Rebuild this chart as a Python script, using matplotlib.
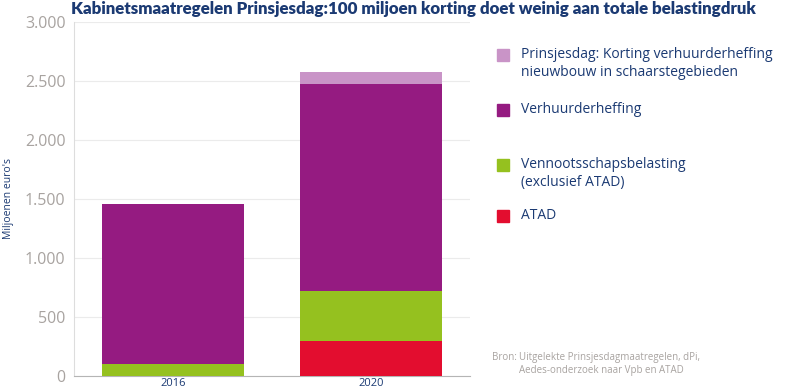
import matplotlib.pyplot as plt
from matplotlib.patches import Rectangle
import numpy as np

# data (miljoenen euro's)
years = ['2016', '2020']
atad = [0, 300]
vpb = [100, 420]
verhuurderheffing = [1360, 1755]
korting = [0, 100]

series_labels = ['Prinsjesdag: Korting verhuurderheffing\nnieuwbouw in schaarstegebieden',
                 'Verhuurderheffing',
                 'Vennootsschapsbelasting\n(exclusief ATAD)',
                 'ATAD']
yticks = [0, 500, 1000, 1500, 2000, 2500, 3000]
ytick_labels = ['0', '500', '1.000', '1.500', '2.000', '2.500', '3.000']

navy = '#1b3a73'
grey = '#a8a3a0'
c_atad = '#e30d2f'
c_vpb = '#95c11f'
c_vhh = '#951b81'
c_kort = '#c994c7'

plt.rcParams['font.family'] = ['Open Sans', 'DejaVu Sans']

fig = plt.figure(figsize=(7.86, 3.9), dpi=100)
ax = fig.add_axes([0.094, 0.036, 0.504, 0.908])

x = np.arange(len(years))
w = 0.72
bottom = np.zeros(len(years))
for vals, col in [(atad, c_atad), (vpb, c_vpb), (verhuurderheffing, c_vhh), (korting, c_kort)]:
    ax.bar(x, vals, w, bottom=bottom, color=col, zorder=3)
    bottom += np.array(vals)

ax.set_xlim(-0.5, 1.5)
ax.set_ylim(0, 3000)
ax.set_yticks(yticks)
ax.set_yticklabels(ytick_labels, fontsize=11.5, color=grey)
ax.set_xticks(x)
ax.set_xticklabels(years, fontsize=8, color=navy)
ax.tick_params(axis='both', length=0)
ax.tick_params(axis='y', pad=6)
ax.tick_params(axis='x', pad=1.5)
ax.grid(axis='y', color='#ebebeb', linewidth=0.8, zorder=0)
for s in ['top', 'right']:
    ax.spines[s].set_visible(False)
ax.spines['left'].set_color('#dddddd')
ax.spines['bottom'].set_color('#b5b5b5')
ax.set_ylabel("Miljoenen euro's", fontsize=7.5, color=navy, labelpad=8)

fig.text(0.526, 0.997, 'Kabinetsmaatregelen Prinsjesdag:100 miljoen korting doet weinig aan totale belastingdruk',
         ha='center', va='top', fontsize=12.2, fontweight='heavy', color=navy, family=['Lato', 'DejaVu Sans'])

# legend drawn by hand
W, H = 786, 390
leg = [(c_kort, 49, series_labels[0]),
       (c_vhh, 104, series_labels[1]),
       (c_vpb, 159, series_labels[2]),
       (c_atad, 210, series_labels[3])]
for col, ytop, lab in leg:
    fig.patches.append(Rectangle((497 / W, 1 - (ytop + 12) / H), 12 / W, 12 / H,
                                 transform=fig.transFigure, color=col))
    fig.text(521 / W, 1 - (ytop - 2) / H, lab, ha='left', va='top', fontsize=10,
             color=navy, linespacing=1.25)

fig.text(492 / W, 1 - 352 / H, 'Bron:', ha='left', va='top', fontsize=7, color=grey)
fig.text(519 / W, 1 - 352 / H, 'Uitgelekte Prinsjesdagmaatregelen, dPi,\nAedes-onderzoek naar Vpb en ATAD',
         ha='left', va='top', fontsize=7, color=grey, linespacing=1.3)

fig.savefig('out.png', dpi=100)
